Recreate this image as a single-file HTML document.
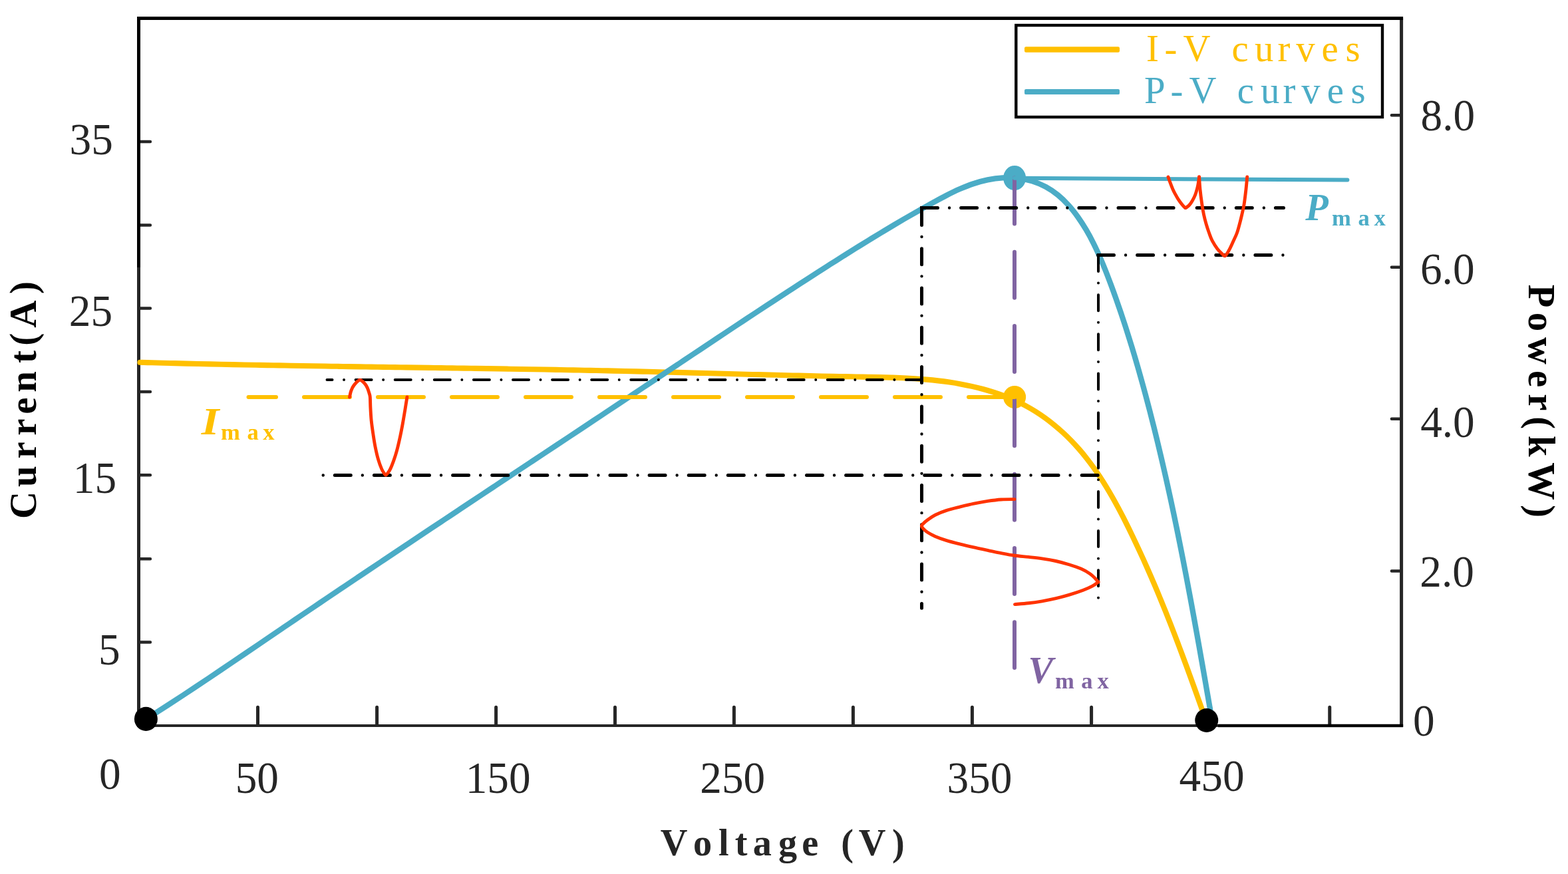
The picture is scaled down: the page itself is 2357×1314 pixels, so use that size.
<!DOCTYPE html>
<html lang="en"><head><meta charset="utf-8"><title>I-V and P-V curves</title>
<style>
html,body{margin:0;padding:0;background:#fff;}
body{width:2357px;height:1314px;overflow:hidden;}
svg{display:block;}
text{font-family:"Liberation Serif","DejaVu Serif",serif;white-space:pre;}
.b{font-weight:bold;}
.ln{fill:none;stroke-linecap:round;stroke-linejoin:round;}
</style>
</head><body>
<svg width="2357" height="1314" viewBox="0 0 2357 1314">
<rect x="0" y="0" width="2357" height="1314" fill="#ffffff"/>
<g id="axes" fill="none">
<path class="ln" d="M208.5,213H225.9M208.5,338.4H225.9M208.5,463.5H225.9M208.5,588.9H225.9M208.5,714.3H225.9M208.5,840.2H225.9M208.5,965.5H225.9M2106.6,173.2H2091.9M2106.6,401.7H2091.9M2106.6,629.8H2091.9M2106.6,858.6H2091.9" stroke="#262626" stroke-width="4.5"/>
<path class="ln" d="M387.5,1090V1063.2M566.6,1090V1063.2M745.6,1090V1063.2M924.5,1090V1063.2M1103.4,1090V1063.2M1282.4,1090V1063.2M1461.4,1090V1063.2M1640.6,1090V1063.2M1819.7,1090V1063.2M1998.75,1090V1063.2" stroke="#262626" stroke-width="5"/>
<path d="M208.5,27.4V1093M2106.6,27.4V1093" stroke="#262626" stroke-width="5"/>
<path d="M206,1091H2109.1" stroke="#262626" stroke-width="4"/>
<path d="M208.5,402V27.4H2109.1" stroke="#000000" stroke-width="5" stroke-linejoin="miter"/>
<path d="M1831,1091H2109.1" stroke="#000000" stroke-width="4.6"/>
</g>
<path id="iv" class="ln" d="M210.48,544.81C213.4,544.89 222.16,545.13 228,545.28C233.83,545.44 239.66,545.59 245.5,545.74C251.33,545.88 257.16,546.03 262.98,546.17C268.81,546.31 274.64,546.45 280.46,546.59C286.28,546.72 292.1,546.85 297.92,546.99C303.74,547.12 309.56,547.24 315.37,547.37C321.19,547.5 327,547.62 332.81,547.74C338.62,547.86 344.43,547.98 350.24,548.1C356.05,548.21 361.86,548.33 367.66,548.44C373.47,548.55 379.27,548.66 385.07,548.77C390.87,548.88 396.68,548.99 402.47,549.09C408.27,549.19 414.07,549.3 419.87,549.4C425.66,549.5 431.46,549.6 437.25,549.7C443.04,549.8 448.83,549.89 454.63,549.99C460.42,550.09 466.21,550.18 471.99,550.27C477.78,550.37 483.57,550.46 489.36,550.55C495.14,550.64 500.93,550.73 506.71,550.82C512.49,550.91 518.28,551 524.06,551.08C529.84,551.17 535.62,551.26 541.4,551.34C547.18,551.43 552.96,551.51 558.74,551.6C564.52,551.68 570.29,551.77 576.07,551.85C581.85,551.94 587.62,552.02 593.4,552.1C599.17,552.19 604.95,552.27 610.72,552.35C616.5,552.44 622.27,552.52 628.04,552.6C633.82,552.68 639.59,552.77 645.36,552.85C651.13,552.93 656.91,553.02 662.68,553.1C668.45,553.19 674.22,553.27 679.99,553.36C685.76,553.44 691.53,553.53 697.3,553.61C703.07,553.7 708.84,553.78 714.61,553.87C720.38,553.96 726.15,554.05 731.92,554.14C737.69,554.23 743.46,554.32 749.23,554.41C755,554.5 760.77,554.59 766.54,554.68C772.3,554.78 778.07,554.87 783.84,554.97C789.61,555.06 795.38,555.16 801.15,555.26C806.92,555.36 812.69,555.46 818.46,555.56C824.24,555.66 830.01,555.77 835.78,555.87C841.55,555.98 847.32,556.08 853.09,556.19C858.86,556.3 864.64,556.41 870.41,556.53C876.18,556.64 881.96,556.75 887.73,556.87C893.5,556.99 899.28,557.11 905.05,557.23C910.83,557.35 916.6,557.47 922.38,557.6C928.16,557.73 933.94,557.86 939.71,557.99C945.49,558.12 951.27,558.25 957.05,558.39C962.83,558.53 968.61,558.67 974.39,558.81C980.17,558.95 985.96,559.09 991.74,559.24C997.52,559.39 1003.31,559.54 1009.1,559.69C1014.88,559.84 1020.67,559.99 1026.46,560.14C1032.24,560.29 1038.03,560.45 1043.82,560.6C1049.61,560.76 1055.41,560.91 1061.2,561.07C1066.99,561.22 1072.79,561.38 1078.58,561.54C1084.38,561.69 1090.17,561.85 1095.97,562C1101.77,562.16 1107.57,562.31 1113.37,562.47C1119.18,562.62 1124.98,562.78 1130.78,562.93C1136.59,563.08 1142.39,563.23 1148.2,563.38C1154.01,563.53 1159.82,563.68 1165.63,563.82C1171.44,563.97 1177.26,564.11 1183.07,564.25C1188.89,564.39 1194.7,564.53 1200.52,564.67C1206.34,564.8 1212.16,564.94 1217.98,565.07C1223.81,565.2 1229.63,565.32 1235.46,565.44C1241.28,565.57 1247.11,565.69 1252.94,565.8C1258.77,565.91 1264.61,566.03 1270.44,566.13C1276.28,566.24 1282.12,566.33 1287.96,566.44C1293.79,566.54 1299.64,566.63 1305.47,566.74C1311.31,566.85 1317.15,566.96 1322.99,567.1C1328.82,567.25 1334.65,567.4 1340.48,567.6C1346.3,567.8 1352.12,568.03 1357.93,568.31C1363.73,568.59 1369.54,568.91 1375.32,569.29C1381.11,569.68 1386.89,570.11 1392.65,570.62C1398.41,571.14 1404.16,571.71 1409.89,572.37C1415.61,573.04 1421.33,573.77 1427.02,574.61C1432.71,575.45 1438.39,576.37 1444.04,577.41C1449.69,578.45 1455.32,579.58 1460.92,580.84C1466.53,582.1 1472.11,583.47 1477.65,584.97C1483.2,586.48 1488.72,588.1 1494.18,589.88C1499.64,591.65 1505.07,593.56 1510.42,595.63C1515.77,597.69 1521.07,599.9 1526.28,602.29C1531.49,604.67 1536.63,607.22 1541.67,609.94C1546.72,612.66 1551.67,615.56 1556.53,618.61C1561.39,621.66 1566.16,624.88 1570.82,628.24C1575.49,631.6 1580.06,635.13 1584.52,638.77C1588.99,642.42 1593.35,646.22 1597.61,650.13C1601.86,654.04 1606.02,658.09 1610.05,662.24C1614.09,666.39 1618.02,670.66 1621.84,675.03C1625.66,679.39 1629.35,683.87 1632.95,688.43C1636.55,692.99 1640.04,697.64 1643.44,702.37C1646.83,707.1 1650.13,711.91 1653.35,716.78C1656.56,721.65 1659.68,726.6 1662.74,731.59C1665.79,736.58 1668.76,741.64 1671.67,746.73C1674.58,751.82 1677.41,756.96 1680.19,762.12C1682.98,767.29 1685.69,772.49 1688.37,777.71C1691.04,782.92 1693.66,788.16 1696.25,793.4C1698.83,798.64 1701.37,803.89 1703.89,809.15C1706.4,814.4 1708.87,819.65 1711.32,824.9C1713.76,830.16 1716.17,835.42 1718.55,840.68C1720.94,845.95 1723.29,851.22 1725.61,856.49C1727.94,861.76 1730.23,867.04 1732.5,872.33C1734.77,877.61 1737.01,882.9 1739.24,888.2C1741.46,893.5 1743.65,898.8 1745.83,904.11C1748.01,909.42 1750.16,914.74 1752.3,920.07C1754.43,925.4 1756.55,930.74 1758.65,936.08C1760.75,941.43 1762.83,946.78 1764.9,952.15C1766.97,957.51 1769.02,962.89 1771.06,968.27C1773.11,973.66 1775.13,979.06 1777.15,984.47C1779.17,989.88 1781.18,995.3 1783.18,1000.73C1785.18,1006.17 1787.17,1011.61 1789.16,1017.08C1791.14,1022.54 1793.12,1028.01 1795.1,1033.5C1797.08,1038.99 1799.05,1044.49 1801.02,1050.01C1802.99,1055.53 1804.96,1061.06 1806.93,1066.61C1808.9,1072.16 1811.86,1080.53 1812.85,1083.31" stroke="#ffc000" stroke-width="8.1"/>
<path id="pv" class="ln" d="M219.85,1080.97C222.96,1078.99 232.27,1073.08 238.48,1069.1C244.68,1065.11 250.89,1061.09 257.11,1057.05C263.32,1053.01 269.53,1048.94 275.74,1044.85C281.96,1040.77 288.17,1036.65 294.39,1032.52C300.6,1028.39 306.82,1024.24 313.03,1020.08C319.25,1015.92 325.47,1011.73 331.69,1007.54C337.91,1003.35 344.13,999.15 350.35,994.93C356.57,990.72 362.79,986.5 369.01,982.27C375.23,978.05 381.45,973.81 387.68,969.58C393.9,965.35 400.12,961.11 406.35,956.88C412.57,952.64 418.8,948.41 425.03,944.18C431.25,939.96 437.48,935.73 443.7,931.51C449.93,927.3 456.16,923.08 462.39,918.87C468.61,914.66 474.84,910.45 481.07,906.25C487.3,902.05 493.53,897.85 499.76,893.65C505.99,889.46 512.22,885.27 518.45,881.08C524.68,876.89 530.91,872.71 537.14,868.53C543.37,864.35 549.6,860.17 555.83,855.99C562.07,851.82 568.3,847.65 574.53,843.48C580.76,839.31 586.99,835.14 593.22,830.98C599.46,826.82 605.69,822.65 611.92,818.5C618.15,814.34 624.38,810.18 630.62,806.03C636.85,801.87 643.08,797.72 649.31,793.57C655.55,789.42 661.78,785.28 668.01,781.13C674.24,776.98 680.47,772.84 686.71,768.7C692.94,764.56 699.17,760.41 705.4,756.28C711.63,752.14 717.86,748 724.09,743.86C730.33,739.72 736.56,735.59 742.79,731.45C749.02,727.32 755.25,723.19 761.48,719.05C767.71,714.92 773.94,710.79 780.17,706.66C786.39,702.52 792.62,698.39 798.85,694.26C805.08,690.13 811.31,686 817.53,681.87C823.76,677.74 829.99,673.61 836.21,669.48C842.44,665.35 848.67,661.22 854.89,657.09C861.12,652.96 867.34,648.83 873.56,644.7C879.79,640.57 886.01,636.44 892.23,632.3C898.46,628.17 904.68,624.04 910.9,619.9C917.12,615.77 923.34,611.64 929.56,607.5C935.78,603.36 942,599.23 948.21,595.09C954.43,590.95 960.65,586.81 966.86,582.67C973.08,578.53 979.29,574.39 985.51,570.24C991.72,566.1 997.94,561.95 1004.15,557.8C1010.36,553.66 1016.57,549.51 1022.79,545.36C1029,541.21 1035.21,537.07 1041.43,532.92C1047.64,528.77 1053.86,524.62 1060.08,520.48C1066.3,516.33 1072.52,512.19 1078.74,508.05C1084.97,503.91 1091.19,499.77 1097.42,495.63C1103.66,491.5 1109.89,487.36 1116.13,483.23C1122.37,479.1 1128.61,474.98 1134.86,470.86C1141.11,466.74 1147.36,462.62 1153.62,458.51C1159.88,454.4 1166.15,450.29 1172.42,446.2C1178.69,442.1 1184.97,438 1191.26,433.92C1197.55,429.83 1203.84,425.75 1210.14,421.68C1216.45,417.61 1222.76,413.55 1229.08,409.49C1235.4,405.44 1241.73,401.39 1248.07,397.36C1254.41,393.32 1260.76,389.3 1267.12,385.29C1273.48,381.28 1279.85,377.28 1286.24,373.31C1292.62,369.33 1299.02,365.37 1305.42,361.44C1311.83,357.51 1318.25,353.59 1324.68,349.71C1331.11,345.82 1337.56,341.96 1344.02,338.13C1350.48,334.3 1356.95,330.5 1363.44,326.73C1369.93,322.97 1376.43,319.23 1382.95,315.54C1389.47,311.84 1395.99,308.16 1402.55,304.56C1409.11,300.97 1415.65,297.34 1422.29,293.97C1428.93,290.59 1435.59,287.26 1442.39,284.3C1449.18,281.35 1456.03,278.54 1463.06,276.22C1470.09,273.9 1477.22,271.83 1484.54,270.36C1491.87,268.88 1499.49,267.78 1507.04,267.36C1514.58,266.94 1522.39,267.03 1529.83,267.86C1537.27,268.69 1544.64,270.16 1551.67,272.34C1558.7,274.51 1565.55,277.42 1571.99,280.91C1578.44,284.4 1584.6,288.64 1590.34,293.29C1596.08,297.93 1601.41,303.24 1606.42,308.77C1611.44,314.3 1616.06,320.34 1620.44,326.46C1624.81,332.57 1628.85,338.99 1632.68,345.46C1636.51,351.93 1640.05,358.56 1643.44,365.26C1646.83,371.96 1649.97,378.79 1653.01,385.66C1656.05,392.54 1658.89,399.51 1661.68,406.49C1664.47,413.47 1667.13,420.52 1669.75,427.56C1672.38,434.6 1674.93,441.66 1677.44,448.73C1679.95,455.8 1682.4,462.88 1684.81,469.97C1687.21,477.07 1689.56,484.17 1691.87,491.29C1694.17,498.41 1696.43,505.54 1698.64,512.68C1700.86,519.82 1703.03,526.97 1705.16,534.14C1707.29,541.3 1709.38,548.47 1711.43,555.66C1713.49,562.84 1715.5,570.04 1717.49,577.24C1719.47,584.44 1721.42,591.66 1723.35,598.88C1725.27,606.1 1727.16,613.33 1729.03,620.57C1730.9,627.81 1732.73,635.06 1734.55,642.32C1736.36,649.57 1738.14,656.84 1739.9,664.11C1741.66,671.38 1743.4,678.66 1745.11,685.95C1746.82,693.24 1748.51,700.53 1750.17,707.83C1751.84,715.13 1753.48,722.44 1755.1,729.75C1756.72,737.06 1758.32,744.38 1759.9,751.7C1761.48,759.03 1763.04,766.35 1764.58,773.69C1766.12,781.02 1767.64,788.36 1769.15,795.7C1770.65,803.04 1772.14,810.39 1773.61,817.73C1775.08,825.08 1776.54,832.44 1777.98,839.79C1779.42,847.15 1780.84,854.51 1782.26,861.87C1783.67,869.23 1785.07,876.59 1786.46,883.96C1787.84,891.32 1789.22,898.69 1790.58,906.06C1791.95,913.43 1793.3,920.8 1794.65,928.17C1795.99,935.54 1797.32,942.91 1798.65,950.28C1799.98,957.65 1801.3,965.02 1802.61,972.39C1803.92,979.76 1805.22,987.13 1806.52,994.5C1807.82,1001.87 1809.12,1009.24 1810.41,1016.61C1811.7,1023.97 1812.98,1031.34 1814.26,1038.7C1815.54,1046.06 1816.82,1053.43 1818.1,1060.78C1819.38,1068.14 1821.29,1079.17 1821.93,1082.85" stroke="#4bacc6" stroke-width="8.3"/>
<g id="markers">
<ellipse cx="1525.1" cy="267.6" rx="17" ry="18.65" fill="#4bacc6"/>
<ellipse cx="1525.1" cy="597" rx="17.05" ry="17.05" fill="#ffc000"/>
</g>
<path class="ln" d="M1525,267.45V1004" stroke="#8064a2" stroke-width="6" stroke-dasharray="69 42.3"/>
<path class="ln" d="M1525,267.8L2025.4,270.5" stroke="#4bacc6" stroke-width="6"/>
<path class="ln" d="M1525,597H373.5" stroke="#ffc000" stroke-width="6" stroke-dasharray="69 42"/>
<g id="guides" class="ln" stroke="#000000">
<path d="M1385.5,312.5H1929.5" stroke-width="5" stroke-dasharray="24 35.1" stroke-dashoffset="0"/>
<path d="M1385.5,312.5H1929.5" stroke-width="4.4" stroke-dasharray="0.01 59.09" stroke-dashoffset="-41.55"/>
<path d="M1385.5,312.5V914.3" stroke-width="5" stroke-dasharray="24 35.3" stroke-dashoffset="-1.9"/>
<path d="M1385.5,312.5V914.3" stroke-width="4.4" stroke-dasharray="0.01 59.29" stroke-dashoffset="-43.55"/>
<path d="M1650.5,383.5H1930" stroke-width="5" stroke-dasharray="24 35.1" stroke-dashoffset="0"/>
<path d="M1650.5,383.5H1930" stroke-width="4.4" stroke-dasharray="0.01 59.09" stroke-dashoffset="-41.55"/>
<path d="M1651,383.5V899.5" stroke-width="4" stroke-dasharray="24 35.15" stroke-dashoffset="-0.5"/>
<path d="M1651,383.5V899.5" stroke-width="4" stroke-dasharray="0.01 59.14" stroke-dashoffset="-42.08"/>
<path d="M1386,571H491.5" stroke-width="4" stroke-dasharray="24 35.1" stroke-dashoffset="0"/>
<path d="M1386,571H491.5" stroke-width="4" stroke-dasharray="0.01 59.09" stroke-dashoffset="-41.55"/>
<path d="M1650.2,714.5H485" stroke-width="5" stroke-dasharray="24 35.1" stroke-dashoffset="0"/>
<path d="M1650.2,714.5H485" stroke-width="4.4" stroke-dasharray="0.01 59.09" stroke-dashoffset="-41.55"/>
<rect x="1383" y="310" width="5" height="5" fill="#000000" stroke="none"/>
<rect x="1648.9" y="381" width="4.1" height="5" fill="#000000" stroke="none"/>
</g>
<g id="ripples" class="ln" stroke="#ff3300" stroke-width="4.9">
<path d="M525.5,597C525.88,595.38 526.67,590.32 527.8,587.3C528.93,584.28 530.13,581.58 532.3,578.9C534.47,576.22 538.1,571.52 540.8,571.2C543.5,570.88 546.57,574.95 548.5,577C550.43,579.05 551.32,581.13 552.4,583.5C553.48,585.87 554.35,588.95 555,591.2C555.65,593.45 555.98,593.33 556.3,597C556.62,600.67 556.58,607.27 556.9,613.2C557.22,619.13 557.55,626.13 558.2,632.6C558.85,639.07 559.83,645.53 560.8,652C561.77,658.47 562.7,664.92 564,671.4C565.3,677.88 566.98,685.28 568.6,690.9C570.22,696.52 572.2,701.62 573.7,705.1C575.2,708.58 576.55,710.28 577.6,711.8C578.65,713.32 579.17,714.23 580,714.2C580.83,714.17 581.48,713.12 582.6,711.6C583.72,710.08 585.15,708.35 586.7,705.1C588.25,701.85 590.28,696.63 591.9,692.1C593.52,687.57 594.78,683.93 596.4,677.9C598.02,671.87 600.1,662.8 601.6,655.9C603.1,649 604.22,642.97 605.4,636.5C606.58,630.03 607.62,623.68 608.7,617.1C609.78,610.52 611.37,600.35 611.9,597"/>
<path d="M1756,266C1756.47,267.33 1757.67,270.97 1758.8,274C1759.93,277.03 1761.47,281.17 1762.8,284.2C1764.13,287.23 1765.47,289.72 1766.8,292.2C1768.13,294.68 1769.18,296.62 1770.8,299.1C1772.42,301.58 1774.93,305.08 1776.5,307.1C1778.07,309.12 1779.25,310.28 1780.2,311.2C1781.15,312.12 1781.52,312.6 1782.2,312.6C1782.88,312.6 1783.35,311.93 1784.3,311.2C1785.25,310.47 1786.53,309.83 1787.9,308.2C1789.27,306.57 1791.07,303.87 1792.5,301.4C1793.93,298.93 1795.35,296.27 1796.5,293.4C1797.65,290.53 1798.63,287.05 1799.4,284.2C1800.17,281.35 1800.57,279.33 1801.1,276.3C1801.63,273.27 1802.35,267.72 1802.6,266"/>
<path d="M1802.6,266C1802.82,269.03 1803.2,277.35 1803.9,284.2C1804.6,291.05 1805.85,300.62 1806.8,307.1C1807.75,313.58 1808.55,318.15 1809.6,323.1C1810.65,328.05 1811.77,332.23 1813.1,336.8C1814.43,341.37 1816.08,346.32 1817.6,350.5C1819.12,354.68 1820.1,357.92 1822.2,361.9C1824.3,365.88 1827.5,370.9 1830.2,374.4C1832.9,377.9 1836.6,381.15 1838.4,382.9C1840.2,384.65 1840.17,384.9 1841,384.9C1841.83,384.9 1842.17,384.65 1843.4,382.9C1844.63,381.15 1846.6,377.9 1848.4,374.4C1850.2,370.9 1852.38,365.88 1854.2,361.9C1856.02,357.92 1857.78,354.68 1859.3,350.5C1860.82,346.32 1862.07,341.37 1863.3,336.8C1864.53,332.23 1865.57,328.05 1866.7,323.1C1867.83,318.15 1869.05,313.58 1870.1,307.1C1871.15,300.62 1872.23,291.05 1873,284.2C1873.77,277.35 1874.42,269.03 1874.7,266"/>
<path d="M1525,750.6C1521.68,750.67 1511.83,750.53 1505.1,751C1498.37,751.47 1491.45,752.38 1484.6,753.4C1477.75,754.42 1470.85,755.68 1464,757.1C1457.15,758.52 1450.35,760.18 1443.5,761.9C1436.65,763.62 1429.18,765.35 1422.9,767.4C1416.62,769.45 1410.58,771.8 1405.8,774.2C1401.02,776.6 1397.23,779.6 1394.2,781.8C1391.17,784 1389.08,785.92 1387.6,787.4C1386.12,788.88 1385.3,789.5 1385.3,790.7C1385.3,791.9 1386.12,793 1387.6,794.6C1389.08,796.2 1391.17,798.33 1394.2,800.3C1397.23,802.27 1401.02,804.35 1405.8,806.4C1410.58,808.45 1416.62,810.65 1422.9,812.6C1429.18,814.55 1436.65,816.38 1443.5,818.1C1450.35,819.82 1457.15,821.37 1464,822.9C1470.85,824.43 1477.77,825.83 1484.6,827.3C1491.43,828.77 1498.28,830.37 1505,831.7C1511.72,833.03 1518.05,834.35 1524.9,835.3C1531.75,836.25 1539.15,836.65 1546.1,837.4C1553.05,838.15 1559.75,838.78 1566.6,839.8C1573.45,840.82 1580.35,841.97 1587.2,843.5C1594.05,845.03 1601.42,847.07 1607.7,849C1613.98,850.93 1619.75,852.82 1624.9,855.1C1630.05,857.38 1635.07,860.3 1638.6,862.7C1642.13,865.1 1644.05,867.45 1646.1,869.5C1648.15,871.55 1650.1,874.08 1650.9,875"/>
<path d="M1650.9,875C1649.42,876.03 1645.77,879.15 1642,881.2C1638.23,883.25 1634.02,885.13 1628.3,887.3C1622.58,889.47 1614.55,892.13 1607.7,894.2C1600.85,896.27 1594.05,898.1 1587.2,899.7C1580.35,901.3 1573.45,902.62 1566.6,903.8C1559.75,904.98 1552.95,906 1546.1,906.8C1539.25,907.6 1528.93,908.3 1525.5,908.6"/>
</g>
<ellipse cx="219.4" cy="1080.9" rx="17.5" ry="18.1" fill="#000000"/>
<ellipse cx="1813.75" cy="1083" rx="17.5" ry="17.9" fill="#000000"/>
<g id="legend">
<rect x="1527.3" y="38" width="550.7" height="138" fill="#ffffff" stroke="#000000" stroke-width="4.4"/>
<rect x="1540" y="70.2" width="143" height="8.6" rx="2.2" fill="#ffc000"/>
<rect x="1540" y="133.9" width="143" height="8.2" rx="2.2" fill="#4bacc6"/>
</g>
<g id="labels">
<text transform="translate(104.62,231.8) scale(0.96,1)" font-size="68" fill="#262626">35</text>
<text transform="translate(103.8,490.1) scale(0.96,1)" font-size="68" fill="#262626">25</text>
<text transform="translate(109.81,740.6) scale(0.96,1)" font-size="68" fill="#262626">15</text>
<text transform="translate(148.11,999.3) scale(0.96,1)" font-size="68" fill="#262626">5</text>
<text transform="translate(149.08,1185.5) scale(0.96,1)" font-size="68" fill="#262626">0</text>
<text transform="translate(353.71,1191.5) scale(0.96,1)" font-size="68" fill="#262626">50</text>
<text transform="translate(699.66,1191.5) scale(0.96,1)" font-size="68" fill="#262626">150</text>
<text transform="translate(1052.3,1191.5) scale(0.96,1)" font-size="68" fill="#262626">250</text>
<text transform="translate(1423.46,1191.5) scale(0.96,1)" font-size="68" fill="#262626">350</text>
<text transform="translate(1772.61,1189) scale(0.96,1)" font-size="68" fill="#262626">450</text>
<text transform="translate(2135.55,195.8) scale(0.96,1)" font-size="68" fill="#262626">8.0</text>
<text transform="translate(2134.99,426.7) scale(0.96,1)" font-size="68" fill="#262626">6.0</text>
<text transform="translate(2135.17,657.3) scale(0.96,1)" font-size="68" fill="#262626">4.0</text>
<text transform="translate(2134.36,882) scale(0.96,1)" font-size="68" fill="#262626">2.0</text>
<text transform="translate(2123.93,1105.7) scale(0.96,1)" font-size="68" fill="#262626">0</text>
<text x="1723.06 1750.49 1778.53 1819.55 1851.62 1886.04 1920.6 1948.2 1986.62 2022.4" y="92.3" font-size="56.8" fill="#ffc000">I-V curves</text>
<text x="1720.07 1759.44 1787.58 1828.6 1859.72 1894.94 1928.5 1956.25 1994.67 2030.5" y="155.2" font-size="56.8" fill="#4bacc6">P-V curves</text>
<text x="992.66 1042.02 1080.12 1104.86 1131.83 1170.03 1205.26 1230.25 1264.24 1290.66 1340.92" y="1285.8" font-size="56.3" fill="#262626" class="b">Voltage (V)</text>
<text transform="translate(54.3,0) rotate(-90)" x="-780.06 -731.93 -689.48 -654.83 -622.8 -589.67 -545.96 -519.63 -492.86 -442.09" y="0" font-size="57" fill="#000000" class="b">Current(A)</text>
<text transform="translate(2297.9,0) rotate(90)" x="427.82 469.65 506.92 557.04 592.26 626.24 654.94 695.15 759.32" y="0" font-size="56.6" fill="#000000" class="b">Power(kW)</text>
<text class="b" fill="#ffc000"><tspan x="302.66" y="653.1" font-size="56.8" font-style="italic" textLength="26.53" lengthAdjust="spacingAndGlyphs">I</tspan><tspan x="331.97 371.4 395.3" y="661.1" font-size="34.6">max</tspan></text>
<text class="b" fill="#4bacc6"><tspan x="1962.21" y="331" font-size="56.5" font-style="italic">P</tspan><tspan x="2001.97 2041.4 2065.45" y="339.1" font-size="34.6">max</tspan></text>
<text class="b" fill="#8064a2"><tspan x="1545.59" y="1027.3" font-size="56.5" font-style="italic">V</tspan><tspan x="1586.02 1625.35 1649.45" y="1035.1" font-size="34.6">max</tspan></text>
</g>
</svg>
</body></html>
